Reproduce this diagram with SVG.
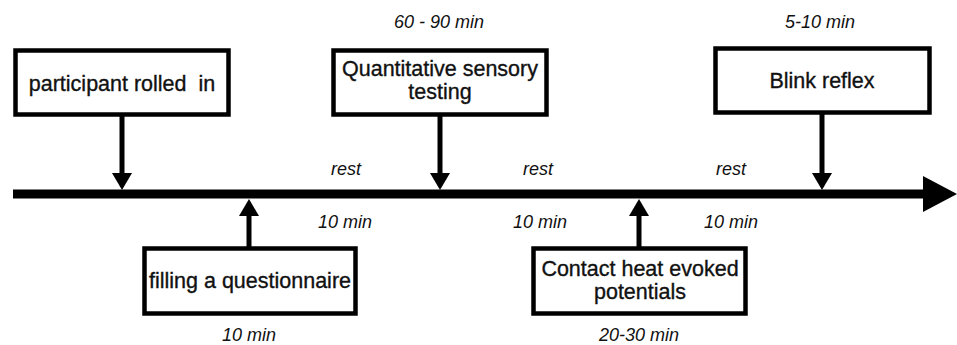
<svg xmlns="http://www.w3.org/2000/svg" width="957" height="345" viewBox="0 0 957 345">
<style>
.box{fill:#fff;stroke:#000;stroke-width:4.5}
.lbl{font-family:"Liberation Sans",Arial,sans-serif;font-size:21.5px;fill:#111;stroke:#111;stroke-width:0.35;text-anchor:middle}
.it{font-family:"Liberation Sans",Arial,sans-serif;font-size:18px;font-style:italic;fill:#111;text-anchor:middle}
.conn{stroke:#000;stroke-width:5;fill:none}
</style>
<defs>
<marker id="ah" markerUnits="userSpaceOnUse" viewBox="0 0 17 20" refX="7" refY="10" markerWidth="17" markerHeight="20" orient="auto">
<path d="M0,0 L17,10 L0,20 Z" fill="#000"/>
</marker>
<marker id="big" markerUnits="userSpaceOnUse" viewBox="0 0 34 36" refX="6" refY="18" markerWidth="34" markerHeight="36" orient="auto">
<path d="M0,0 L34,18 L0,36 Z" fill="#000"/>
</marker>
</defs>
<g id="connectors">
<line x1="13" y1="194" x2="929" y2="194" stroke="#000" stroke-width="9" marker-end="url(#big)"/>
<line class="conn" x1="122" y1="116" x2="122" y2="180" marker-end="url(#ah)"/>
<line class="conn" x1="440" y1="116" x2="440" y2="180" marker-end="url(#ah)"/>
<line class="conn" x1="822" y1="114" x2="822" y2="180" marker-end="url(#ah)"/>
<line class="conn" x1="249" y1="247" x2="249" y2="209" marker-end="url(#ah)"/>
<line class="conn" x1="639" y1="247" x2="639" y2="209" marker-end="url(#ah)"/>
</g>
<g id="participant">
<rect class="box" x="15.5" y="50.5" width="213" height="64"/>
<text class="lbl" x="122" y="91" xml:space="preserve">participant rolled  in</text>
</g>
<g id="qst">
<rect class="box" x="333.5" y="50.5" width="213" height="64"/>
<text class="lbl" x="440" y="76">Quantitative sensory</text>
<text class="lbl" x="440" y="99">testing</text>
<text class="it" x="439" y="28">60 - 90 min</text>
</g>
<g id="blink">
<rect class="box" x="715.5" y="48.5" width="214" height="64"/>
<text class="lbl" x="822" y="88">Blink reflex</text>
<text class="it" x="820" y="28">5-10 min</text>
</g>
<g id="questionnaire">
<rect class="box" x="144.5" y="248.5" width="211" height="65"/>
<text class="lbl" x="250" y="288">filling a questionnaire</text>
<text class="it" x="249" y="341">10 min</text>
</g>
<g id="chep">
<rect class="box" x="533.5" y="248.5" width="212" height="65"/>
<text class="lbl" x="640" y="276">Contact heat evoked</text>
<text class="lbl" x="640" y="299">potentials</text>
<text class="it" x="639" y="341">20-30 min</text>
</g>
<g id="rests">
<text class="it" x="346" y="175">rest</text>
<text class="it" x="538" y="175">rest</text>
<text class="it" x="731" y="175">rest</text>
<text class="it" x="345" y="228">10 min</text>
<text class="it" x="540" y="228">10 min</text>
<text class="it" x="731" y="228">10 min</text>
</g>
</svg>
